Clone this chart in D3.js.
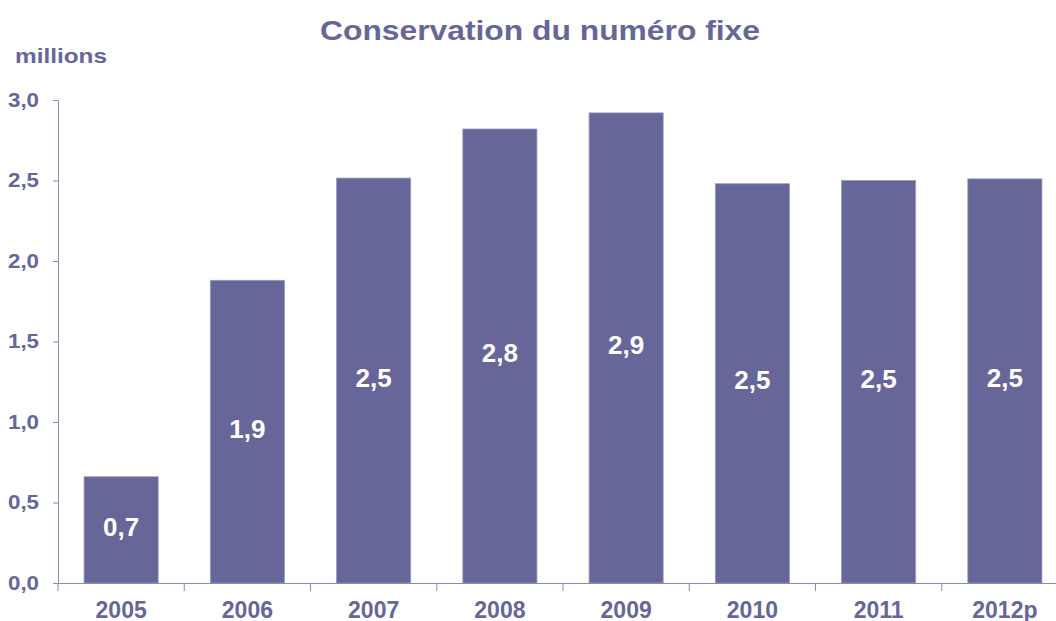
<!DOCTYPE html>
<html>
<head>
<meta charset="utf-8">
<script src="https://cdn.jsdelivr.net/npm/d3@7/dist/d3.min.js"></script>
<style>
  html, body { margin: 0; padding: 0; background: #fff; }
  svg { display: block; }
  text { font-family: "Liberation Sans", Arial, sans-serif; font-weight: bold; }
</style>
</head>
<body>
<svg id="chart" width="1056" height="621"></svg>
<script>
const categories = ["2005", "2006", "2007", "2008", "2009", "2010", "2011", "2012p"];
const values = [0.66, 1.88, 2.515, 2.82, 2.92, 2.48, 2.50, 2.51];
const yTicks = [0, 0.5, 1.0, 1.5, 2.0, 2.5, 3.0];
const title = "Conservation du numéro fixe";
const unitLabel = "millions";

(function () {
const textColor = "#666699";
const barColor = "#666699";
const axisColor = "#8a8ab0";

const svg = d3.select("#chart");
const mLeft = 58, mTop = 100, mBottom = 583, mRight = 1068;

const x = d3.scaleBand().domain(categories).range([mLeft, mRight])
  .paddingInner(0.413).paddingOuter(0.2065);
const y = d3.scaleLinear().domain([0, 3]).range([mBottom, mTop]);

const fmt = d => d3.format(".1f")(d).replace(".", ",");

// Title
svg.append("text")
  .attr("x", 540).attr("y", 40)
  .attr("text-anchor", "middle")
  .attr("font-size", 27)
  .attr("textLength", 440).attr("lengthAdjust", "spacingAndGlyphs")
  .attr("fill", textColor)
  .text(title);

// Unit label
svg.append("text")
  .attr("x", 15).attr("y", 63)
  .attr("font-size", 21)
  .attr("textLength", 92).attr("lengthAdjust", "spacingAndGlyphs")
  .attr("fill", textColor)
  .text(unitLabel);

// Bars
svg.append("g").selectAll("rect")
  .data(categories)
  .join("rect")
  .attr("x", d => x(d))
  .attr("width", x.bandwidth())
  .attr("y", (d, i) => y(values[i]))
  .attr("height", (d, i) => y(0) - y(values[i]))
  .attr("fill", barColor)
  .attr("stroke", "#9a9ac0")
  .attr("stroke-width", 0.8);

// Bar labels
svg.append("g").selectAll("text")
  .data(categories)
  .join("text")
  .attr("x", d => x(d) + x.bandwidth() / 2)
  .attr("y", (d, i) => (y(values[i]) + y(0)) / 2 + 6)
  .attr("text-anchor", "middle")
  .attr("font-size", 26)
  .attr("fill", "#ffffff")
  .text((d, i) => fmt(values[i]));

// Y axis
const yAxis = svg.append("g")
  .attr("transform", `translate(${mLeft},0)`)
  .call(d3.axisLeft(y).tickValues(yTicks).tickSize(5).tickSizeOuter(0).tickPadding(14).tickFormat(fmt));
yAxis.select(".domain").attr("stroke", axisColor);
yAxis.selectAll(".tick line").attr("stroke", axisColor);
yAxis.selectAll(".tick text")
  .attr("font-size", 19.5)
  .attr("fill", textColor)
  .attr("font-family", "Liberation Sans, Arial, sans-serif")
  .attr("font-weight", "bold")
  .attr("textLength", 31).attr("lengthAdjust", "spacingAndGlyphs");

// X axis
const xAxis = svg.append("g")
  .attr("transform", `translate(0,${mBottom})`)
  .call(d3.axisBottom(x).tickSize(0).tickSizeOuter(0).tickPadding(0));
xAxis.select(".domain").attr("stroke", axisColor);
xAxis.selectAll(".tick text")
  .attr("y", 35)
  .attr("dy", 0)
  .attr("font-size", 23)
  .attr("fill", textColor)
  .attr("font-family", "Liberation Sans, Arial, sans-serif")
  .attr("font-weight", "bold");

// Category boundary ticks
const boundaries = categories.map(d => x(d) - x.step() * x.paddingInner() / 2).concat([mRight]);
svg.append("g").selectAll("line")
  .data(boundaries)
  .join("line")
  .attr("x1", d => d).attr("x2", d => d)
  .attr("y1", mBottom).attr("y2", mBottom + 8)
  .attr("stroke", axisColor);
})();
</script>
</body>
</html>
